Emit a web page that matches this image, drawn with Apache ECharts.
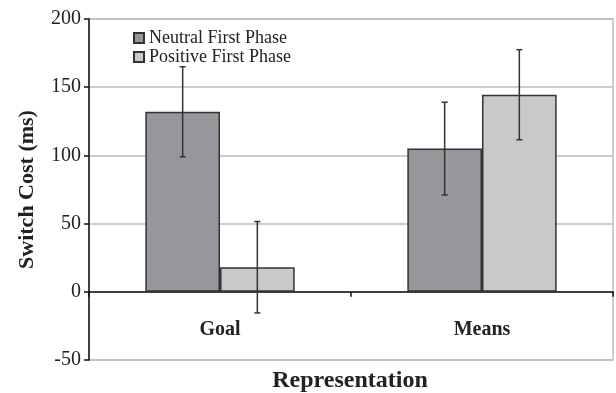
<!DOCTYPE html>
<html>
<head>
<meta charset="utf-8">
<script src="https://cdn.jsdelivr.net/npm/echarts@6/dist/echarts.min.js"></script>
<style>html,body{margin:0;padding:0;background:#fff;}#c{width:616px;height:393px;}</style>
</head>
<body>
<div id="c"></div>
<script>
var categories = ['Goal', 'Means'];
var seriesNames = ['Neutral First Phase', 'Positive First Phase'];
var neutralValues = [132, 105];
var neutralErrors = [33, 34];
var positiveValues = [18, 144.5];
var positiveErrors = [33.5, 33];
var yTicks = { min: -50, max: 200, interval: 50 };

var FONT = '"Liberation Serif", "Times New Roman", serif';
var GAP = 0.43;
var chart = echarts.init(document.getElementById('c'));

function errData(vals, errs) {
  return vals.map(function (v, i) { return [i, v, errs[i]]; });
}
function errSeries(vals, errs, side) {
  return {
    type: 'custom',
    z: 10,
    silent: true,
    encode: { x: 0, y: 1 },
    data: errData(vals, errs),
    renderItem: function (params, api) {
      var idx = api.value(0), v = api.value(1), e = api.value(2);
      var band = api.size([1, 0])[0];
      var barW = band * (1 - GAP) / 2;
      var c = api.coord([idx, v]);
      var x = c[0] + side * barW / 2;
      var yt = api.coord([idx, v + e])[1];
      var yb = api.coord([idx, v - e])[1];
      var cap = 3;
      var st = { stroke: '#333', lineWidth: 1.5 };
      return {
        type: 'group',
        children: [
          { type: 'line', shape: { x1: x, y1: yt, x2: x, y2: yb }, style: st },
          { type: 'line', shape: { x1: x - cap, y1: yt, x2: x + cap, y2: yt }, style: st },
          { type: 'line', shape: { x1: x - cap, y1: yb, x2: x + cap, y2: yb }, style: st }
        ]
      };
    }
  };
}

chart.setOption({
  animation: false,
  backgroundColor: '#fff',
  textStyle: { fontFamily: FONT },
  grid: { left: 89, right: 3, top: 19, bottom: 33, show: true, borderColor: '#bdbdbd', borderWidth: 1.5, outerBoundsMode: 'none', containLabel: false },
  legend: {
    orient: 'vertical', left: 128, top: 24, itemWidth: 10, itemHeight: 10, itemGap: 1,
    icon: 'rect', data: seriesNames,
    textStyle: { fontFamily: FONT, fontSize: 18, color: '#222' }
  },
  xAxis: {
    type: 'category', data: categories,
    axisLine: { onZero: true, lineStyle: { color: '#111', width: 1.5 } },
    axisTick: { show: true, length: 5, lineStyle: { color: '#111', width: 1.5 } },
    axisLabel: { margin: -40, fontFamily: FONT, fontSize: 20, fontWeight: 'bold', color: '#222' },
    splitLine: { show: false }
  },
  yAxis: {
    type: 'value', min: yTicks.min, max: yTicks.max, interval: yTicks.interval,
    name: 'Switch Cost (ms)', nameLocation: 'middle', nameGap: 51, nameRotate: 90,
    nameTextStyle: { fontFamily: FONT, fontSize: 22, fontWeight: 'bold', color: '#222' },
    axisLine: { show: true, lineStyle: { color: '#111', width: 1.5 } },
    axisTick: { show: true, length: 5, lineStyle: { color: '#111', width: 1.5 } },
    axisLabel: { margin: 8, fontFamily: FONT, fontSize: 20, color: '#222' },
    splitLine: { lineStyle: { color: '#bdbdbd', width: 1.5 } }
  },
  graphic: [{
    type: 'text', x: 350, y: 369,
    style: { text: 'Representation', textAlign: 'center', fontFamily: FONT, fontSize: 24, fontWeight: 'bold', fill: '#222' }
  }],
  series: [
    {
      name: seriesNames[0], type: 'bar', data: neutralValues, barGap: '0%', barCategoryGap: '43%',
      itemStyle: { color: '#96979b', borderColor: '#333', borderWidth: 1.5 }
    },
    {
      name: seriesNames[1], type: 'bar', data: positiveValues, barGap: '0%', barCategoryGap: '43%',
      itemStyle: { color: '#c8c9cb', borderColor: '#333', borderWidth: 1.5 }
    },
    errSeries(neutralValues, neutralErrors, -1),
    errSeries(positiveValues, positiveErrors, 1)
  ]
});
</script>
</body>
</html>
